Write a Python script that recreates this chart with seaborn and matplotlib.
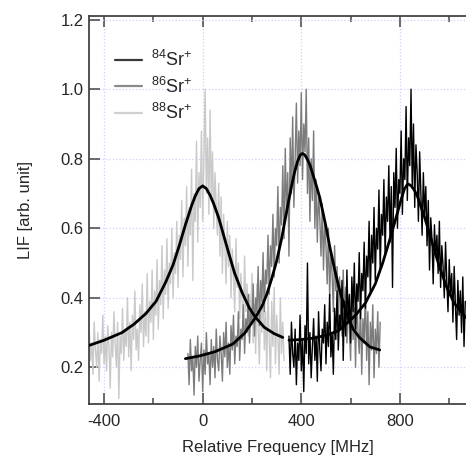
import matplotlib
matplotlib.use("Agg")
import matplotlib.pyplot as plt
import numpy as np
import seaborn as sns
from matplotlib.ticker import MultipleLocator, FixedLocator


# raw LIF traces, one sample every 5 MHz starting at *_START
STEP_MHZ = 5

SR88_START = -460
SR88_LIF = [
    0.31, 0.22, 0.27, 0.18, 0.33, 0.25, 0.20, 0.30, 0.16, 0.28,
    0.24, 0.35, 0.21, 0.29, 0.19, 0.32, 0.26, 0.14, 0.30, 0.23,
    0.36, 0.27, 0.20, 0.33, 0.11, 0.29, 0.24, 0.37, 0.22, 0.31,
    0.26, 0.40, 0.23, 0.33, 0.19, 0.35, 0.28, 0.42, 0.25, 0.31,
    0.22, 0.38, 0.30, 0.44, 0.26, 0.36, 0.29, 0.47, 0.27, 0.39,
    0.33, 0.48, 0.28, 0.42, 0.35, 0.51, 0.31, 0.45, 0.38, 0.55,
    0.34, 0.48, 0.41, 0.57, 0.37, 0.50, 0.44, 0.60, 0.40, 0.53,
    0.47, 0.62, 0.43, 0.58, 0.51, 0.68, 0.46, 0.63, 0.55, 0.72,
    0.49, 0.66, 0.58, 0.77, 0.45, 0.70, 0.62, 0.85, 0.56, 0.76,
    0.66, 0.88, 0.62, 0.80, 1.00, 0.70, 0.86, 0.64, 0.94, 0.68,
    0.82, 0.60, 0.76, 0.66, 0.58, 0.73, 0.52, 0.69, 0.47, 0.64,
    0.55, 0.44, 0.62, 0.49, 0.58, 0.40, 0.54, 0.46, 0.36, 0.57,
    0.43, 0.50, 0.34, 0.47, 0.39, 0.31, 0.52, 0.36, 0.44, 0.29,
    0.41, 0.33, 0.47, 0.27, 0.38, 0.24, 0.44, 0.31, 0.21, 0.40,
    0.30, 0.46, 0.25, 0.36, 0.19, 0.42, 0.28, 0.17, 0.39, 0.26,
    0.43, 0.21, 0.35, 0.29, 0.18, 0.40, 0.24, 0.33, 0.22,
]

SR86_START = -60
SR86_LIF = [
    0.24, 0.15, 0.28, 0.19, 0.23, 0.12, 0.26, 0.20, 0.29, 0.16,
    0.22, 0.27, 0.13, 0.25, 0.18, 0.30, 0.21, 0.24, 0.15, 0.28,
    0.20, 0.26, 0.17, 0.31, 0.22, 0.19, 0.29, 0.24, 0.16, 0.30,
    0.23, 0.33, 0.20, 0.27, 0.18, 0.32, 0.25, 0.35, 0.21, 0.29,
    0.26, 0.36, 0.22, 0.31, 0.28, 0.38, 0.24, 0.34, 0.30, 0.41,
    0.27, 0.37, 0.33, 0.44, 0.29, 0.40, 0.36, 0.49, 0.32, 0.45,
    0.39, 0.53, 0.36, 0.48, 0.44, 0.58, 0.41, 0.55, 0.49, 0.64,
    0.46, 0.60, 0.55, 0.72, 0.50, 0.66, 0.61, 0.78, 0.57, 0.83,
    0.64, 0.76, 0.52, 0.86, 0.70, 0.92, 0.66, 0.80, 0.96, 0.73,
    0.88, 0.78, 0.99, 0.74, 0.90, 0.82, 1.00, 0.70, 0.86, 0.62,
    0.80, 0.68, 0.88, 0.60, 0.74, 0.56, 0.70, 0.63, 0.52, 0.67,
    0.48, 0.62, 0.55, 0.44, 0.60, 0.40, 0.53, 0.47, 0.36, 0.55,
    0.42, 0.49, 0.32, 0.46, 0.38, 0.29, 0.48, 0.35, 0.43, 0.27,
    0.40, 0.31, 0.22, 0.44, 0.28, 0.37, 0.20, 0.41, 0.30, 0.24,
    0.39, 0.18, 0.34, 0.27, 0.43, 0.22, 0.36, 0.15, 0.33, 0.25,
    0.38, 0.17, 0.31, 0.24, 0.36, 0.20, 0.33,
]

SR84_START = 350
SR84_LIF = [
    0.29, 0.18, 0.33, 0.24, 0.20, 0.31, 0.15, 0.27, 0.22, 0.35,
    0.19, 0.28, 0.13, 0.32, 0.24, 0.50, 0.21, 0.30, 0.17, 0.26,
    0.34, 0.22, 0.29, 0.16, 0.36, 0.25, 0.19, 0.31, 0.27, 0.38,
    0.21, 0.33, 0.26, 0.41, 0.23, 0.30, 0.18, 0.37, 0.28, 0.42,
    0.25, 0.35, 0.31, 0.45, 0.22, 0.39, 0.29, 0.48, 0.33, 0.41,
    0.27, 0.46, 0.36, 0.50, 0.31, 0.44, 0.39, 0.53, 0.34, 0.47,
    0.42, 0.56, 0.37, 0.52, 0.46, 0.62, 0.41, 0.58, 0.50, 0.66,
    0.45, 0.60, 0.54, 0.71, 0.48, 0.64, 0.58, 0.74, 0.52, 0.69,
    0.62, 0.78, 0.56, 0.72, 0.43, 0.76, 0.66, 0.83, 0.60, 0.74,
    0.70, 0.88, 0.64, 0.80, 0.74, 0.95, 0.68, 0.86, 0.78, 1.00,
    0.72, 0.90, 0.66, 0.84, 0.76, 0.62, 0.82, 0.70, 0.58, 0.76,
    0.64, 0.72, 0.55, 0.68, 0.48, 0.63, 0.57, 0.44, 0.61, 0.52,
    0.58, 0.47, 0.62, 0.43, 0.55, 0.49, 0.40, 0.56, 0.45, 0.36,
    0.51, 0.41, 0.47, 0.33, 0.49, 0.38, 0.28, 0.45, 0.35, 0.42,
    0.30, 0.46, 0.26, 0.39,
]

# fitted line shapes
FIT88_MHZ = [-461, -400, -327, -277, -230, -189, -150, -120, -95, -70, -45, -30, -15,
             0, 15, 30, 45, 65, 85, 105, 130, 160, 190, 213, 250, 290, 325]
FIT88_LIF = [0.263, 0.278, 0.300, 0.325, 0.355, 0.390, 0.445, 0.495, 0.550, 0.610, 0.665, 0.693, 0.714,
             0.722, 0.714, 0.695, 0.670, 0.630, 0.580, 0.530, 0.470, 0.415, 0.370, 0.345, 0.315, 0.297, 0.286]

FIT86_MHZ = [-70, -12, 50, 122, 170, 211, 240, 260, 280, 300, 320, 341, 360, 373, 385, 395,
             404, 413, 422, 435, 446, 460, 475, 500, 516, 535, 556, 575, 589, 610, 637, 678, 718]
FIT86_LIF = [0.225, 0.233, 0.245, 0.267, 0.298, 0.340, 0.375, 0.410, 0.455, 0.506, 0.570, 0.650, 0.720, 0.762, 0.793, 0.810,
             0.815, 0.812, 0.802, 0.782, 0.757, 0.725, 0.688, 0.605, 0.545, 0.482, 0.420, 0.375, 0.345, 0.310, 0.285, 0.259, 0.250]

FIT84_MHZ = [350, 400, 450, 500, 550, 590, 620, 660, 700, 730, 760, 790, 805, 818,
             832, 846, 860, 873, 900, 930, 960, 990, 1020, 1068]
FIT84_LIF = [0.278, 0.280, 0.284, 0.292, 0.305, 0.330, 0.350, 0.385, 0.440, 0.500, 0.570, 0.645, 0.683, 0.713,
             0.728, 0.722, 0.708, 0.688, 0.632, 0.560, 0.490, 0.430, 0.385, 0.343]

LABELS = [r"$^{84}$Sr$^{+}$", r"$^{86}$Sr$^{+}$", r"$^{88}$Sr$^{+}$"]
TRACE_COLORS = ["#000000", "#7c7c7c", "#c9c9c9"]
LEGEND_COLORS = ["#3a3a3a", "#8a8a8a", "#d0d0d0"]


def freq_axis(start, values):
    return np.arange(start, start + STEP_MHZ * len(values), STEP_MHZ)


sns.set_style("ticks")
plt.rcParams["font.family"] = ["Liberation Sans", "DejaVu Sans"]
plt.rcParams["mathtext.fontset"] = "custom"
plt.rcParams["mathtext.rm"] = "Liberation Sans"
plt.rcParams["axes.unicode_minus"] = False

fig, ax = plt.subplots(figsize=(4.66, 4.63), dpi=100)
fig.subplots_adjust(left=0.191, right=1.0, bottom=0.127, top=0.965)

traces = [
    (SR88_START, SR88_LIF, TRACE_COLORS[2]),
    (SR86_START, SR86_LIF, TRACE_COLORS[1]),
    (SR84_START, SR84_LIF, TRACE_COLORS[0]),
]
for start, lif, color in traces:
    sns.lineplot(x=freq_axis(start, lif), y=lif, ax=ax, color=color, lw=1.0,
                 estimator=None, sort=False, legend=False, zorder=2)

for fx, fy in [(FIT88_MHZ, FIT88_LIF), (FIT86_MHZ, FIT86_LIF), (FIT84_MHZ, FIT84_LIF)]:
    sns.lineplot(x=fx, y=fy, ax=ax, color="black", lw=2.0,
                 estimator=None, sort=False, legend=False, zorder=3)

handles = [plt.Line2D([], [], color=c, lw=1.6) for c in LEGEND_COLORS]
ax.legend(handles, LABELS, loc="upper left", bbox_to_anchor=(0.025, 0.955),
          frameon=False, fontsize=13, handlelength=1.5, handletextpad=0.5,
          labelspacing=0.36)

ax.set_xlim(-461, 1068)
ax.set_ylim(0.094, 1.21)
ax.xaxis.set_major_locator(FixedLocator([-400, 0, 400, 800]))
ax.xaxis.set_minor_locator(FixedLocator([-200, 200, 600, 1000]))
ax.yaxis.set_major_locator(MultipleLocator(0.2))
ax.yaxis.set_major_formatter(plt.FormatStrFormatter("%.1f"))

ax.grid(True, which="major", color="#cfcfff", ls=":", lw=0.9)
ax.set_axisbelow(True)

ax.tick_params(which="both", direction="in", top=True, right=False,
               color="#444444", labelsize=12, width=1.1)
ax.tick_params(which="major", length=8)
ax.tick_params(which="minor", length=4.5)
ax.tick_params(axis="x", pad=7)
ax.tick_params(axis="y", pad=4)

for side in ["left", "bottom", "top"]:
    ax.spines[side].set_color("#444444")
    ax.spines[side].set_linewidth(1.3)
ax.spines["right"].set_visible(False)

ax.set_xlabel("Relative Frequency [MHz]", fontsize=12, labelpad=8)
ax.set_ylabel("LIF [arb. unit]", fontsize=12, labelpad=20)

fig.savefig("out.png", dpi=100)
